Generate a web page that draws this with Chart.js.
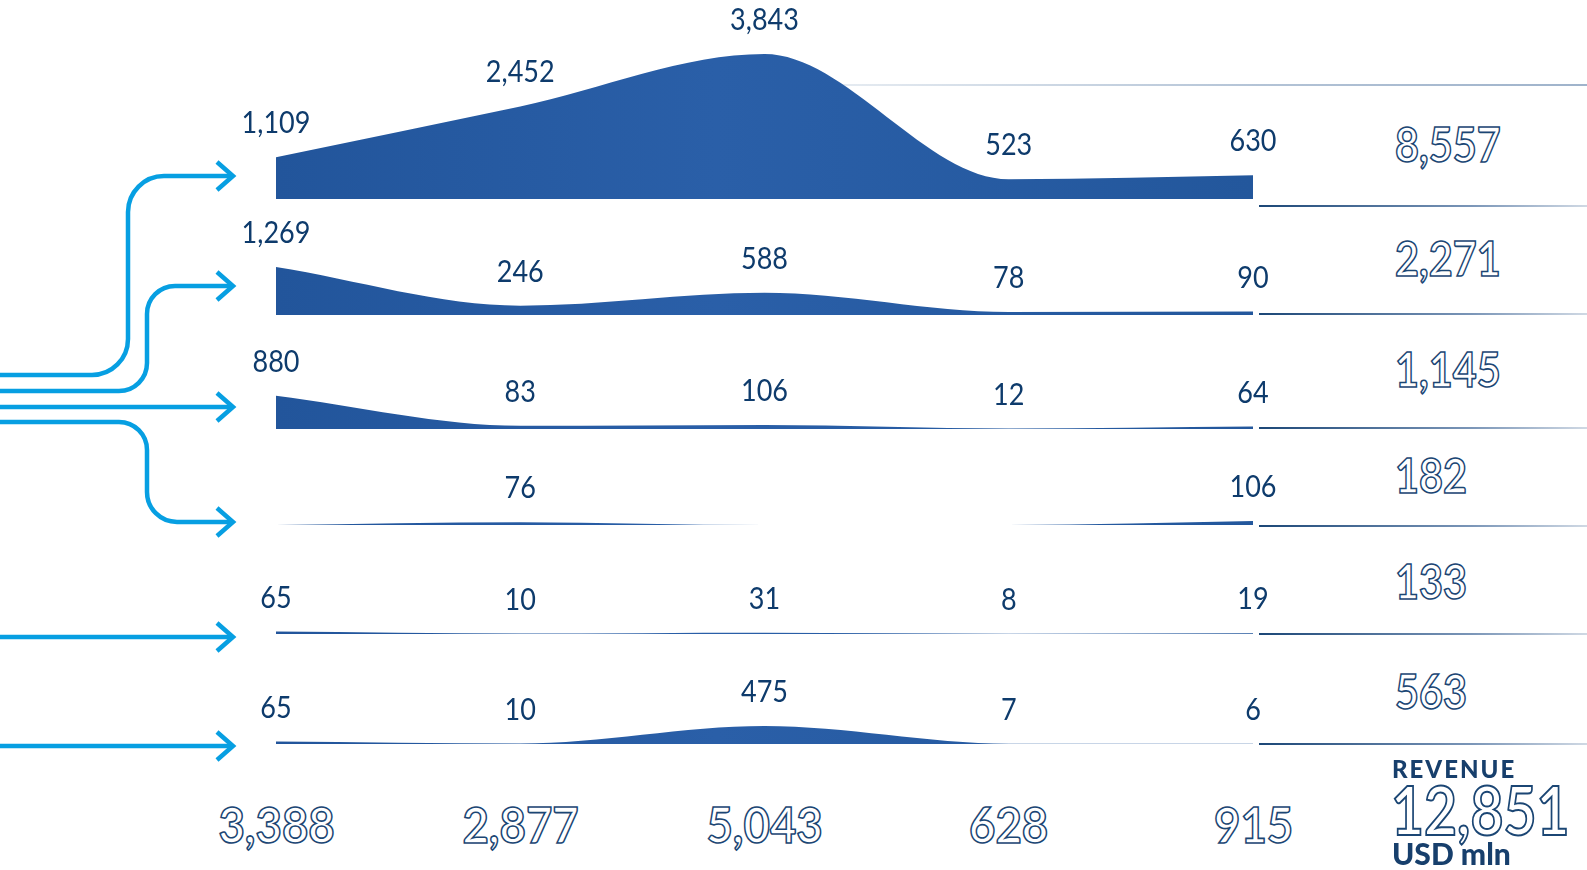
<!DOCTYPE html>
<html>
<head>
<meta charset="utf-8">
<script src="https://cdn.jsdelivr.net/npm/chart.js@4.4.1/dist/chart.umd.min.js"></script>
<style>
  html, body { margin: 0; padding: 0; background: #fff; }
  #page { position: relative; width: 1587px; height: 870px; overflow: hidden; font-family: Lato, "Noto Sans", sans-serif; }
  #arrows { position: absolute; left: 0; top: 0; }
  canvas.row { position: absolute; left: 200px; }
  .rule { position: absolute; left: 1259px; width: 328px; height: 2px;
          background: linear-gradient(to right, #1c4777, #7b96b8 65%, #d0d9e4); }
  .topline { position: absolute; left: 770px; width: 817px; top: 84px; height: 1.5px;
             background: linear-gradient(to right, #eef2f6, #b3c3d6 60%, #9fb3cb); }
  .total { position: absolute; color: #fff; -webkit-text-stroke: 1.6px #1b4674;
           font-weight: 700; line-height: 1; white-space: nowrap; }
  .total i { display: inline-block; width: 0; height: 0; }
  .caption { position: absolute; color: #173f6c; font-weight: 900; line-height: 1; white-space: nowrap; }
  .caption i { display: inline-block; width: 0; height: 0; }
</style>
</head>
<body>
<div id="page">
  <svg id="arrows" width="1587" height="870" fill="none" stroke="#079fe2" stroke-width="4.5">
    <path d="M0,375 H92 A36,36 0 0 0 128,339 V212 A36,36 0 0 1 164,176 H232"/>
    <path d="M0,391 H119 A28,28 0 0 0 147,363 V314 A28,28 0 0 1 175,286 H232"/>
    <path d="M0,407 H232"/>
    <path d="M0,422 H119 A28,28 0 0 1 147,450 V492 A30,30 0 0 0 177,522 H232"/>
    <path d="M0,637 H232"/>
    <path d="M0,746 H232"/>
    <path d="M217,162 L233,176 L217,190"/>
    <path d="M217,272 L233,286 L217,300"/>
    <path d="M217,393 L233,407 L217,421"/>
    <path d="M217,508 L233,522 L217,536"/>
    <path d="M217,623 L233,637 L217,651"/>
    <path d="M217,732 L233,746 L217,760"/>
  </svg>
  <div class="topline"></div>
</div>
<script>
// columns (unlabelled in the source) and the six rows of values, USD mln
const columns = ["c1", "c2", "c3", "c4", "c5"];
const row1 = [1109, 2452, 3843, 523, 630];
const row2 = [1269, 246, 588, 78, 90];
const row3 = [880, 83, 106, 12, 64];
const row4 = [0, 76, 0, 0, 106];
const row5 = [65, 10, 31, 8, 19];
const row6 = [65, 10, 475, 7, 6];
const rows = [row1, row2, row3, row4, row5, row6];

// layout
const baselines = [199, 315, 429, 525, 634, 744];
const ruleY = [205, 313, 427, 525, 633, 743];
const rightTotalBase = [162, 276, 387, 493, 599, 709];
const AREA_H = 220;          // chart area height in px
const UNITS_PER_PX = 26.5;   // same vertical scale on every row

const fmt = (v) => v.toLocaleString("en-US");
const page = document.getElementById("page");

const valueLabels = {
  id: "valueLabels",
  afterDatasetsDraw(chart) {
    const ctx = chart.ctx;
    const data = chart.data.datasets[0].data;
    const meta = chart.getDatasetMeta(0);
    ctx.save();
    ctx.fillStyle = "#0e3b6c";
    ctx.font = "400 30px Lato";
    ctx.textAlign = "center";
    ctx.textBaseline = "alphabetic";
    meta.data.forEach(function (pt, i) {
      if (!data[i]) return;
      ctx.save();
      ctx.translate(pt.x, pt.y - 24);
      ctx.scale(0.9, 1);
      ctx.fillText(fmt(data[i]), 0, 0);
      ctx.restore();
    });
    ctx.restore();
  },
};

function areaFill(c) {
  const a = c.chart.chartArea;
  if (!a) return "#285ca3";
  const g = c.chart.ctx.createLinearGradient(a.left, 0, a.right, 0);
  g.addColorStop(0, "#22559b");
  g.addColorStop(0.45, "#2a5fa8");
  g.addColorStop(1, "#23579c");
  return g;
}

const charts = [];
rows.forEach(function (values, r) {
  const cv = document.createElement("canvas");
  cv.className = "row";
  cv.width = 1130;
  cv.height = AREA_H + 20;
  cv.style.top = baselines[r] - AREA_H + "px";
  page.appendChild(cv);
  charts.push(
    new Chart(cv.getContext("2d"), {
      type: "line",
      data: {
        labels: columns,
        datasets: [
          {
            data: values,
            fill: "origin",
            backgroundColor: areaFill,
            borderWidth: 0,
            pointRadius: 0,
            cubicInterpolationMode: "monotone",
          },
        ],
      },
      options: {
        responsive: false,
        animation: false,
        events: [],
        layout: { padding: { left: 76, right: 77, top: 0, bottom: 20 } },
        scales: {
          x: { display: false, offset: false },
          y: { display: false, min: 0, max: AREA_H * UNITS_PER_PX },
        },
        plugins: { legend: { display: false }, tooltip: { enabled: false } },
      },
      plugins: [valueLabels],
    })
  );
});

// rules on the right of each row
ruleY.forEach(function (y) {
  const d = document.createElement("div");
  d.className = "rule";
  d.style.top = y + "px";
  page.appendChild(d);
});

// place text so its baseline sits at y
function putText(cls, text, size, x, y, align, sx, extra) {
  const s = document.createElement("span");
  s.className = cls;
  s.style.fontSize = size + "px";
  if (extra) Object.assign(s.style, extra);
  s.innerHTML = text + "<i></i>";
  page.appendChild(s);
  const base = s.querySelector("i").offsetTop;
  const w = s.offsetWidth;
  s.style.top = y - base + "px";
  s.style.transformOrigin = align === "center" ? "50% 0" : "0 0";
  s.style.transform = "scaleX(" + sx + ")";
  s.style.left = (align === "center" ? x - w / 2 : x) + "px";
}

const rowTotals = rows.map((v) => v.reduce((a, b) => a + b, 0));
const colTotals = columns.map((c, i) => rows.reduce((a, v) => a + v[i], 0));
const grandTotal = rowTotals.reduce((a, b) => a + b, 0);

rowTotals.forEach(function (t, r) {
  putText("total", fmt(t), 47, 1395, rightTotalBase[r], "left", 0.88);
});

const xs = charts[5].scales.x;
colTotals.forEach(function (t, i) {
  putText("total", fmt(t), 49, 200 + xs.getPixelForValue(i), 843, "center", 0.93);
});

putText("caption", "REVENUE", 24, 1392, 778, "left", 1, { letterSpacing: "2px" });
putText("total", fmt(grandTotal), 67, 1391, 835, "left", 0.85, { webkitTextStroke: "2px #1b4674" });
putText("caption", "USD mln", 30, 1392, 865, "left", 1);
</script>
</body>
</html>
